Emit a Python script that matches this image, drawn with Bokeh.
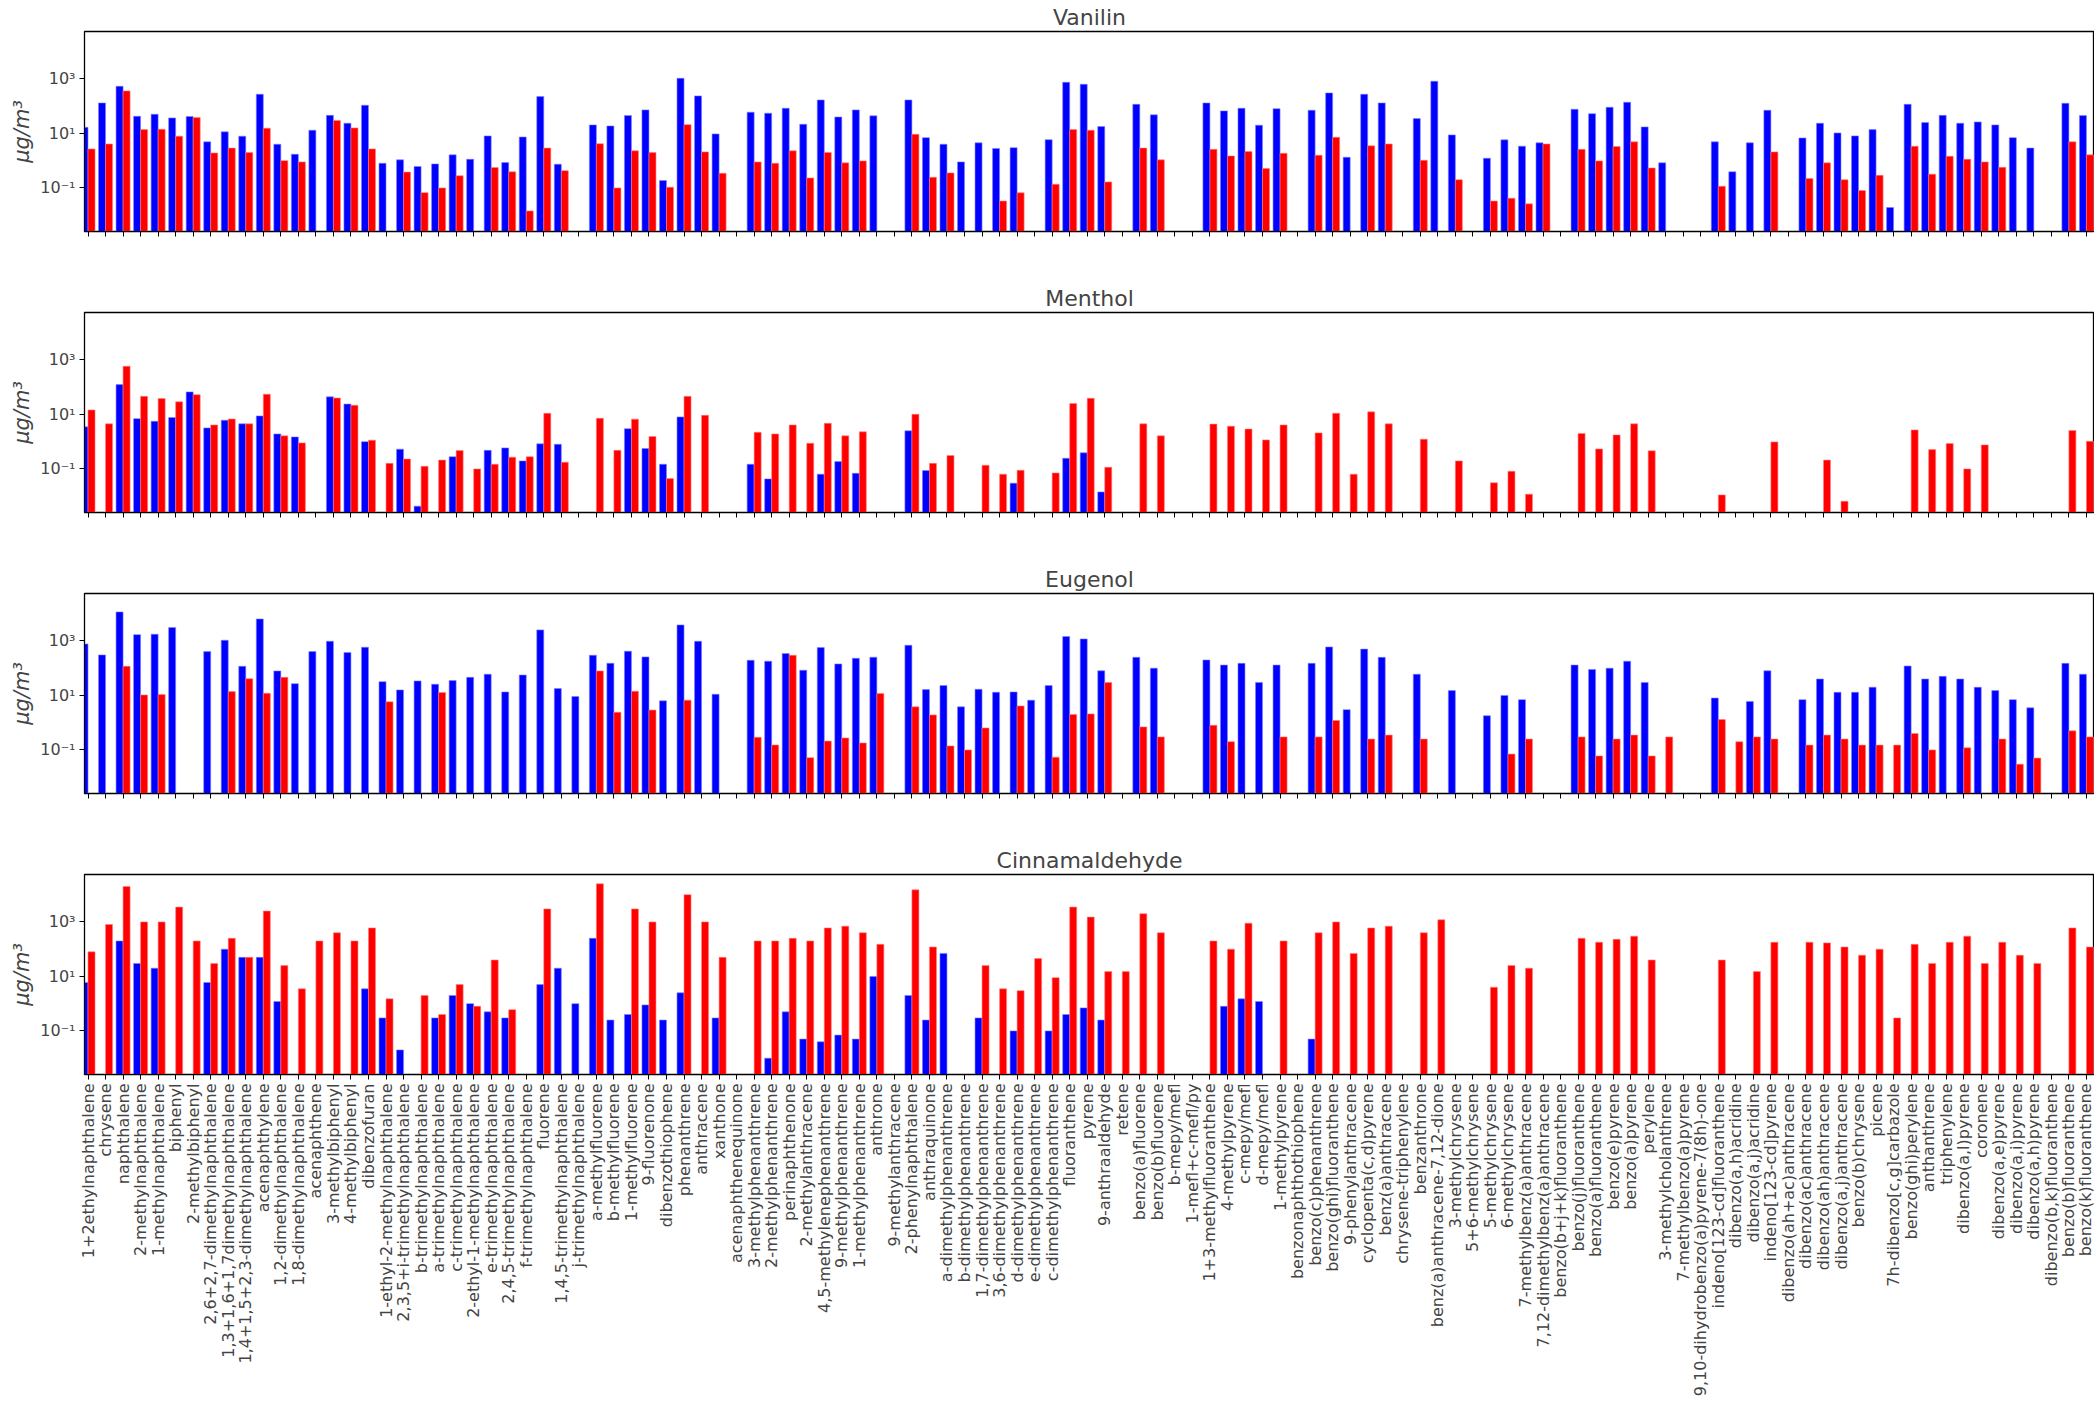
import math
from bokeh.plotting import figure
from bokeh.layouts import column
from bokeh.models import Range1d, FixedTicker, CustomJSTickFormatter
from bokeh.embed import file_html
from bokeh.resources import INLINE

categories = [
    "1+2ethylnaphthalene", "chrysene", "naphthalene", "2-methylnaphthalene", "1-methylnaphthalene",
    "biphenyl", "2-methylbiphenyl", "2,6+2,7-dimethylnaphthalene", "1,3+1,6+1,7dimethylnaphthalene",
    "1,4+1,5+2,3-dimethylnaphthalene", "acenaphthylene", "1,2-dimethylnaphthalene", "1,8-dimethylnaphthalene",
    "acenaphthene", "3-methylbiphenyl", "4-methylbiphenyl", "dibenzofuran", "1-ethyl-2-methylnaphthalene",
    "2,3,5+i-trimethylnaphthalene", "b-trimethylnaphthalene", "a-trimethylnaphthalene", "c-trimethylnaphthalene",
    "2-ethyl-1-methylnaphthalene", "e-trimethylnaphthalene", "2,4,5-trimethylnaphthalene", "f-trimethylnaphthalene",
    "fluorene", "1,4,5-trimethylnaphthalene", "j-trimethylnaphthalene", "a-methylfluorene", "b-methylfluorene",
    "1-methylfluorene", "9-fluorenone", "dibenzothiophene", "phenanthrene", "anthracene", "xanthone",
    "acenaphthenequinone", "3-methylphenanthrene", "2-methylphenanthrene", "perinaphthenone", "2-methylanthracene",
    "4,5-methylenephenanthrene", "9-methylphenanthrene", "1-methylphenanthrene", "anthrone", "9-methylanthracene",
    "2-phenylnaphthalene", "anthraquinone", "a-dimethylphenanthrene", "b-dimethylphenanthrene",
    "1,7-dimethylphenanthrene", "3,6-dimethylphenanthrene", "d-dimethylphenanthrene", "e-dimethylphenanthrene",
    "c-dimethylphenanthrene", "fluoranthene", "pyrene", "9-anthraaldehyde", "retene", "benzo(a)fluorene",
    "benzo(b)fluorene", "b-mepy/mefl", "1-mefl+c-mefl/py", "1+3-methylfluoranthene", "4-methylpyrene",
    "c-mepy/mefl", "d-mepy/mefl", "1-methylpyrene", "benzonaphthothiophene", "benzo(c)phenanthrene",
    "benzo(ghi)fluoranthene", "9-phenylanthracene", "cyclopenta(c,d)pyrene", "benz(a)anthracene",
    "chrysene-triphenylene", "benzanthrone", "benz(a)anthracene-7,12-dione", "3-methylchrysene",
    "5+6-methylchrysene", "5-methylchrysene", "6-methylchrysene", "7-methylbenz(a)anthracene",
    "7,12-dimethylbenz(a)anthracene", "benzo(b+j+k)fluoranthene", "benzo(j)fluoranthene", "benzo(a)fluoranthene",
    "benzo(e)pyrene", "benzo(a)pyrene", "perylene", "3-methylcholanthrene", "7-methylbenzo(a)pyrene",
    "9,10-dihydrobenzo(a)pyrene-7(8h)-one", "indeno[123-cd]fluoranthene", "dibenzo(a,h)acridine",
    "dibenzo(a,j)acridine", "indeno[123-cd]pyrene", "dibenzo(ah+ac)anthracene", "dibenzo(ac)anthracene",
    "dibenzo(ah)anthracene", "dibenzo(a,j)anthracene", "benzo(b)chrysene", "picene", "7h-dibenzo[c,g]carbazole",
    "benzo(ghi)perylene", "anthanthrene", "triphenylene", "dibenzo(a,l)pyrene", "coronene", "dibenzo(a,e)pyrene",
    "dibenzo(a,i)pyrene", "dibenzo(a,h)pyrene", "dibenzo(b,k)fluoranthene", "benzo(b)fluoranthene",
    "benzo(k)fluoranthene",
]

panel_titles = ["Vanilin", "Menthol", "Eugenol", "Cinnamaldehyde"]

vanilin_blue = [
    16.8, 131, 538, 42.6, 50.5, 37, 41.5, 4.9, 11.4, 7.9,
    274, 4.0, 1.72, 13.1, 46, 23.6, 108, 0.80, 1.07, 0.61,
    0.76, 1.63, 1.13, 8.1, 0.85, 7.4, 225, 0.74, 0, 20.5,
    18.8, 45, 73, 0.186, 1057, 238, 9.6, 0, 60, 55,
    84, 21.7, 169, 40, 73, 44, 0, 169, 7.0, 4.0,
    0.90, 4.5, 2.8, 3.0, 0, 5.9, 755, 637, 17.8, 0,
    117, 48, 0, 0, 131, 67, 84, 20, 81, 0,
    71, 306, 1.33, 274, 131, 0, 35, 820, 8.8, 0,
    1.23, 5.8, 3.4, 4.5, 0, 77, 53, 91, 139, 17.3,
    0.83, 0, 0, 4.9, 0.39, 4.5, 71, 0, 6.8, 23.6,
    10.4, 8.1, 13.8, 0.019, 117, 25, 46, 23.6, 26.4, 20.5,
    7.0, 2.9, 0, 128, 45,
]
vanilin_red = [
    2.7, 4.1, 363, 13.8, 14.2, 7.9, 38, 1.92, 2.9, 1.98,
    15.5, 1.0, 0.90, 0, 30, 15.9, 2.7, 0, 0.38, 0.067,
    0.10, 0.28, 0, 0.56, 0.39, 0.0143, 2.9, 0.43, 0, 4.2,
    0.10, 2.3, 1.98, 0.106, 21, 2.1, 0.345, 0, 0.90, 0.80,
    2.3, 0.233, 2.0, 0.83, 0.98, 0, 0, 9.3, 0.246, 0.355,
    0, 0, 0.033, 0.066, 0, 0.136, 13.8, 13.1, 0.166, 0,
    2.9, 1.07, 0, 0, 2.6, 1.49, 2.15, 0.51, 1.87, 0,
    1.58, 7.2, 0, 3.5, 4.1, 0, 1.03, 0, 0.20, 0,
    0.033, 0.042, 0.026, 4.1, 0, 2.6, 0.98, 3.3, 4.9, 0.54,
    0, 0, 0, 0.115, 0, 0, 2.1, 0, 0.22, 0.83,
    0.20, 0.080, 0.29, 0, 3.4, 0.32, 1.45, 1.13, 0.90, 0.57,
    0, 0, 0, 4.9, 1.63,
]

menthol_blue = [
    3.5, 0, 124, 7.0, 5.6, 7.7, 67, 3.2, 6.1, 4.5,
    8.8, 1.92, 1.49, 0, 44, 24, 1.0, 0, 0.53, 0.0043,
    0, 0.28, 0, 0.48, 0.59, 0.197, 0.83, 0.80, 0, 0,
    0, 3.0, 0.56, 0.148, 8.1, 0, 0, 0, 0.148, 0.043,
    0, 0, 0.064, 0.186, 0.069, 0, 0, 2.5, 0.087, 0,
    0, 0, 0, 0.030, 0, 0, 0.246, 0.39, 0.0143, 0,
    0, 0, 0, 0, 0, 0, 0, 0, 0, 0,
    0, 0, 0, 0, 0, 0, 0, 0, 0, 0,
    0, 0, 0, 0, 0, 0, 0, 0, 0, 0,
    0, 0, 0, 0, 0, 0, 0, 0, 0, 0,
    0, 0, 0, 0, 0, 0, 0, 0, 0, 0,
    0, 0, 0, 0, 0,
]
menthol_red = [
    14.6, 4.5, 586, 46, 38, 29, 53, 4.1, 6.8, 4.5,
    55, 1.63, 0.90, 0, 40, 21.7, 1.13, 0.16, 0.23, 0.125,
    0.21, 0.47, 0.10, 0.148, 0.27, 0.28, 11, 0.176, 0, 7.2,
    0.48, 6.7, 1.54, 0.044, 46, 9.3, 0, 0, 2.2, 1.92,
    4.1, 0.87, 4.7, 1.63, 2.3, 0, 0, 10.1, 0.16, 0.31,
    0, 0.136, 0.064, 0.089, 0, 0.071, 25, 39, 0.115, 0,
    4.5, 1.63, 0, 0, 4.4, 3.7, 2.9, 1.16, 4.1, 0,
    2.1, 11, 0.064, 12.4, 4.5, 0, 1.23, 0, 0.197, 0,
    0.031, 0.082, 0.0118, 0, 0, 2.0, 0.54, 1.77, 4.5, 0.46,
    0, 0, 0, 0.0111, 0, 0, 0.98, 0, 0, 0.21,
    0.0065, 0, 0, 0, 2.7, 0.51, 0.85, 0.10, 0.76, 0,
    0, 0, 0, 2.55, 1.03,
]

eugenol_blue = [
    776, 306, 11600, 1700, 1760, 3080, 0, 406, 1057, 117,
    6400, 79, 27, 406, 972, 373, 586, 32, 15.9, 34,
    25.7, 35, 46, 60, 13.4, 56, 2540, 17.8, 9.1, 298,
    151, 418, 259, 6.3, 3860, 972, 11, 0, 195, 180,
    343, 84, 569, 143, 231, 252, 0, 693, 16.4, 23,
    3.8, 16.8, 13.1, 13.4, 6.7, 23, 1440, 1180, 80, 0,
    250, 100, 0, 0, 200, 130, 150, 30, 130, 0,
    150, 600, 3, 500, 250, 0, 60, 0, 15, 0,
    1.8, 10, 7, 0, 0, 130, 90, 100, 180, 30,
    0, 0, 0, 8, 0, 6, 80, 0, 7, 40,
    13, 13, 20, 0, 120, 40, 50, 40, 20, 15,
    7, 3.5, 0, 150, 60,
]
eugenol_red = [
    0, 0, 117, 10.4, 10.7, 0, 0, 0, 13.8, 41,
    12, 46, 0, 0, 0, 0, 0, 5.8, 0, 0,
    12.7, 0, 0, 0, 0, 0, 0, 0, 0, 79,
    2.4, 14.2, 2.9, 0, 6.7, 0, 0, 0, 0.29, 0.152,
    298, 0.052, 0.21, 0.275, 0.18, 11.7, 0, 3.8, 1.92, 0.14,
    0.10, 0.64, 0, 4.1, 0, 0.054, 2.0, 2.1, 30, 0,
    0.7, 0.3, 0, 0, 0.8, 0.2, 0, 0, 0.3, 0,
    0.3, 1.2, 0, 0.25, 0.35, 0, 0.25, 0, 0, 0,
    0, 0.07, 0.25, 0, 0, 0.3, 0.06, 0.25, 0.35, 0.06,
    0.3, 0, 0, 1.3, 0.2, 0.3, 0.25, 0, 0.15, 0.35,
    0.25, 0.15, 0.15, 0.15, 0.4, 0.1, 0, 0.12, 0, 0.25,
    0.03, 0.05, 0, 0.5, 0.3,
]

cinnamaldehyde_blue = [
    6, 0, 200, 30, 20, 0, 0, 6, 100, 50,
    50, 1.2, 0, 0, 0, 0, 3.5, 0.3, 0.02, 0,
    0.3, 2, 1, 0.5, 0.3, 0, 5, 20, 1, 250,
    0.25, 0.4, 0.9, 0.25, 2.5, 0, 0.3, 0, 0, 0.01,
    0.5, 0.05, 0.04, 0.07, 0.05, 10, 0, 2, 0.25, 70,
    0, 0.3, 0, 0.1, 0, 0.1, 0.4, 0.7, 0.25, 0,
    0, 0, 0, 0, 0, 0.8, 1.5, 1.2, 0, 0,
    0.05, 0, 0, 0, 0, 0, 0, 0, 0, 0,
    0, 0, 0, 0, 0, 0, 0, 0, 0, 0,
    0, 0, 0, 0, 0, 0, 0, 0, 0, 0,
    0, 0, 0, 0, 0, 0, 0, 0, 0, 0,
    0, 0, 0, 0, 0,
]
cinnamaldehyde_red = [
    80, 800, 20000, 1000, 1000, 3500, 200, 30, 250, 50,
    2500, 25, 3.5, 200, 400, 200, 600, 1.5, 0, 2,
    0.4, 5, 0.8, 40, 0.6, 0, 3000, 0, 0, 25000,
    0, 3000, 1000, 0, 10000, 1000, 50, 0, 200, 200,
    250, 200, 600, 700, 400, 150, 0, 15000, 120, 0,
    0, 25, 3.5, 3, 45, 9, 3500, 1500, 15, 15,
    2000, 400, 0, 0, 200, 100, 900, 0, 200, 0,
    400, 1000, 70, 600, 700, 0, 400, 1200, 0, 0,
    4, 25, 20, 0, 0, 250, 180, 230, 300, 40,
    0, 0, 0, 40, 0, 15, 180, 0, 180, 170,
    120, 60, 100, 0.3, 150, 30, 180, 300, 30, 180,
    60, 30, 0, 600, 120,
]

y_ticks = [0.1, 10, 1000]

FONT = "DejaVu Sans"

panels = [
    (panel_titles[0], vanilin_blue, vanilin_red),
    (panel_titles[1], menthol_blue, menthol_red),
    (panel_titles[2], eugenol_blue, eugenol_red),
    (panel_titles[3], cinnamaldehyde_blue, cinnamaldehyde_red),
]

y_fmt = CustomJSTickFormatter(code="""
const e = Math.round(Math.log10(tick));
const sup = {"-1": "⁻¹", "1": "¹", "3": "³"};
return "10" + (sup[String(e)] || "");
""")

figs = []
n = len(categories)
for k, (title, blue, red) in enumerate(panels):
    last = (k == len(panels) - 1)
    p = figure(
        frame_width=2010, frame_height=200,
        x_range=Range1d(-0.2, n - 1 + 0.46),
        y_range=Range1d(10 ** -2.6, 10 ** 4.74),
        y_axis_type="log",
        output_backend="svg", toolbar_location=None,
        title=title,
        min_border_left=84, min_border_right=0,
        min_border_top=0,
        min_border_bottom=(333 if last else 50),
    )
    p.title.align = "center"
    p.title.text_font = FONT
    p.title.text_font_size = "22px"
    p.title.text_font_style = "normal"
    p.title.standoff = 4

    xb = [i - 0.2 for i, v in enumerate(blue) if v > 0]
    tb = [v for v in blue if v > 0]
    xr = [i + 0.2 for i, v in enumerate(red) if v > 0]
    tr = [v for v in red if v > 0]
    p.vbar(x=xb, top=tb, bottom=1e-4, width=0.4, fill_color="#0000ff",
           line_color="#8080ff", line_width=0.6)
    p.vbar(x=xr, top=tr, bottom=1e-4, width=0.4, fill_color="#ff0000",
           line_color="#ff8080", line_width=0.6)

    p.xgrid.visible = False
    p.ygrid.visible = False
    p.outline_line_color = "black"
    p.outline_line_width = 1.3
    p.outline_line_alpha = 1

    xa = p.xaxis[0]
    xa.ticker = FixedTicker(ticks=list(range(n)), minor_ticks=[])
    xa.major_tick_out = 5
    xa.major_tick_in = 0
    xa.axis_line_color = "black"
    xa.major_tick_line_color = "black"
    if last:
        xa.formatter = CustomJSTickFormatter(args=dict(names=categories), code="""
const k = Math.round(tick);
return (k >= 0 && k < names.length) ? names[k] : "";
""")
        xa.major_label_orientation = math.pi / 2
        xa.major_label_text_font = FONT
        xa.major_label_text_font_size = "16px"
        xa.major_label_standoff = 4
    else:
        xa.formatter = CustomJSTickFormatter(code="return '';")
        xa.major_label_text_font_size = "0px"
        xa.major_label_standoff = 0

    ya = p.yaxis[0]
    ya.ticker = FixedTicker(ticks=y_ticks, minor_ticks=[])
    ya.formatter = y_fmt
    ya.major_tick_out = 5
    ya.major_tick_in = 0
    ya.major_label_text_font = FONT
    ya.major_label_text_font_size = "16px"
    ya.major_label_standoff = 4
    ya.axis_label = "μg/m³"
    ya.axis_label_text_font = FONT
    ya.axis_label_text_font_size = "21px"
    ya.axis_label_text_font_style = "italic"
    ya.axis_label_standoff = 3
    figs.append(p)

layout = column(*figs, spacing=0)
open("out.html", "w").write(file_html(layout, INLINE))
